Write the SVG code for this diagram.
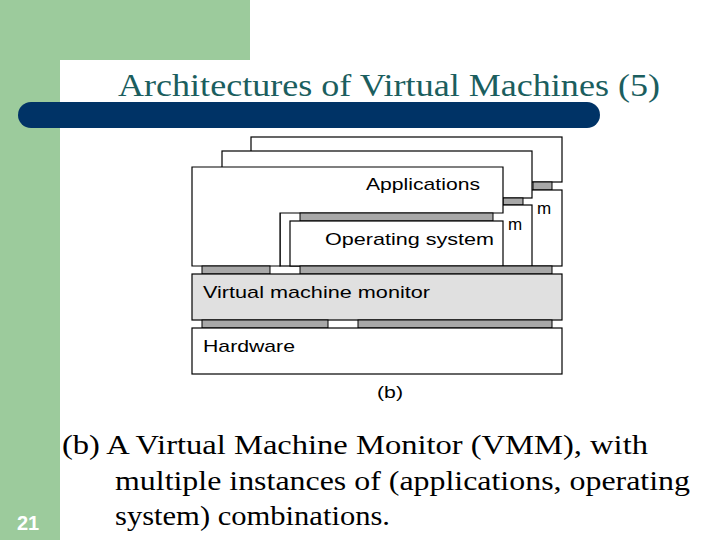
<svg xmlns="http://www.w3.org/2000/svg" width="720" height="540" viewBox="0 0 720 540">
<style>
.b{fill:#fff;stroke:#000;stroke-width:1.2}
.g{fill:#a8a8a8;stroke:#000;stroke-width:1}
.t{font-family:"Liberation Sans",Arial,sans-serif;font-size:17px;fill:#000}
.s{font-family:"Liberation Serif","Times New Roman",serif;font-size:28px;fill:#000}
</style>
<rect width="720" height="540" fill="#fff"/>
<rect x="0" y="0" width="250" height="60" fill="#9ccb9c"/>
<rect x="0" y="0" width="60" height="540" fill="#9ccb9c"/>
<path d="M60 80 Q60 60 80 60 L250 60 L250 102 L60 102 Z" fill="#fff"/>
<rect x="18" y="102" width="582" height="26" rx="13" fill="#003366"/>
<text x="118" y="96" textLength="542" lengthAdjust="spacingAndGlyphs" font-family="Liberation Serif,serif" font-size="32" fill="#1b5e5e">Architectures of Virtual Machines (5)</text>
<g id="back-app"><rect class="b" x="251" y="137" width="311" height="45"/><rect class="g" x="533" y="182" width="19" height="8"/></g>
<g id="back-os"><rect class="b" x="390" y="190" width="172" height="76"/><text class="t" x="537" y="214">m</text></g>
<g id="mid-app"><rect class="b" x="222" y="151" width="310" height="47"/><rect class="g" x="503" y="198" width="20" height="7"/></g>
<g id="mid-os"><rect class="b" x="280" y="205" width="252" height="61"/><text class="t" x="508" y="230">m</text></g>
<g id="front-app"><path class="b" d="M192 167 H503 V213 H280 V266 H192 Z"/><text class="t" x="366" y="190" textLength="114" lengthAdjust="spacingAndGlyphs">Applications</text><rect class="g" x="300" y="213" width="193" height="8"/></g>
<g id="front-os"><rect class="b" x="290" y="221" width="213" height="45"/><text class="t" x="325" y="245" textLength="169" lengthAdjust="spacingAndGlyphs">Operating system</text></g>
<g id="strips1"><rect class="g" x="202" y="266" width="68" height="8"/><rect class="g" x="300" y="266" width="252" height="8"/></g>
<g id="vmm"><rect x="192" y="274" width="370" height="46" fill="#e0e0e0" stroke="#000" stroke-width="1.2"/><text class="t" x="203" y="298" textLength="227" lengthAdjust="spacingAndGlyphs">Virtual machine monitor</text></g>
<g id="strips2"><rect class="g" x="202" y="320" width="126" height="8"/><rect class="g" x="358" y="320" width="194" height="8"/></g>
<g id="hw"><rect class="b" x="192" y="328" width="370" height="46"/><text class="t" x="203" y="352" textLength="92" lengthAdjust="spacingAndGlyphs">Hardware</text></g>
<text class="t" x="377" y="398" textLength="26" lengthAdjust="spacingAndGlyphs">(b)</text>
<g id="connectors"/>
<text class="s" x="62" y="454" textLength="586" lengthAdjust="spacingAndGlyphs">(b) A Virtual Machine Monitor (VMM), with</text>
<text class="s" x="115" y="490" textLength="575" lengthAdjust="spacingAndGlyphs">multiple instances of (applications, operating</text>
<text class="s" x="115" y="525" textLength="275" lengthAdjust="spacingAndGlyphs">system) combinations.</text>
<text x="17" y="530" font-family="Liberation Sans,sans-serif" font-weight="bold" font-size="20" fill="#fff">21</text>
</svg>
